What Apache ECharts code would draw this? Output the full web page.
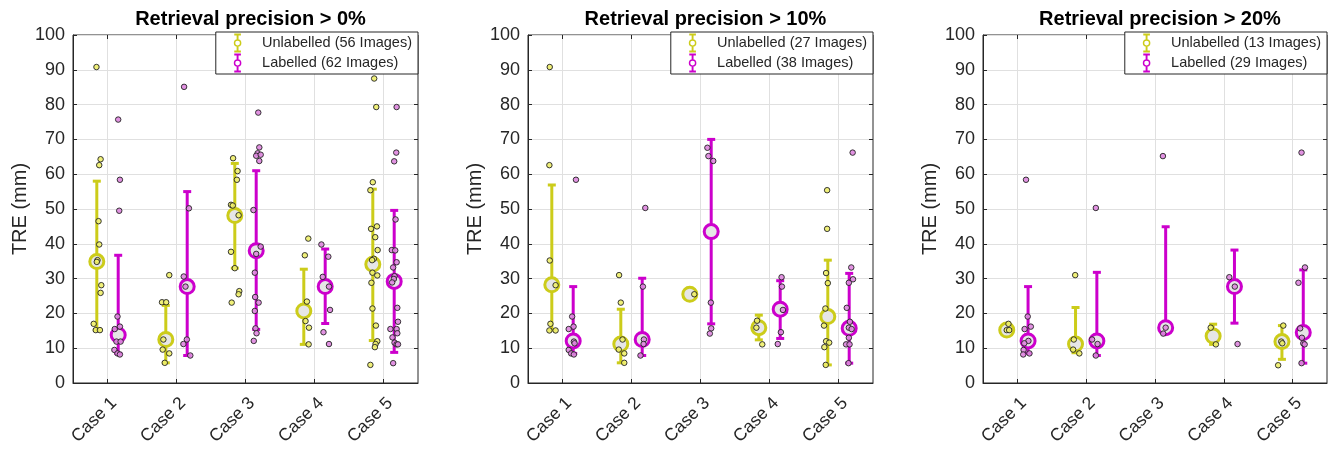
<!DOCTYPE html>
<html>
<head>
<meta charset="utf-8">
<script src="https://cdn.jsdelivr.net/npm/echarts@6/dist/echarts.min.js"></script>
<style>
html,body{margin:0;padding:0;background:#fff;}
#chart{width:1331px;height:450px;}
</style>
</head>
<body>
<div id="chart"></div>
<script>
// ---------------- DATA ----------------
const categories = ['Case 1', 'Case 2', 'Case 3', 'Case 4', 'Case 5'];
const panelTitles = ['Retrieval precision > 0%', 'Retrieval precision > 10%', 'Retrieval precision > 20%'];
const unlabNames = ['Unlabelled (56 Images)', 'Unlabelled (27 Images)', 'Unlabelled (13 Images)'];
const labNames = ['Labelled (62 Images)', 'Labelled (38 Images)', 'Labelled (29 Images)'];
const yAxisName = 'TRE (mm)';

// means and error bar ends per case (null = no data)
const p1UnlabMean = [34.9, 12.5, 48.1, 20.7, 34.1];
const p1UnlabLow  = [15.2, 5.8, 33.0, 11.1, 12.2];
const p1UnlabHigh = [58.0, 22.3, 63.1, 32.7, 55.7];
const p1LabMean = [13.8, 27.7, 38.0, 27.7, 29.2];
const p1LabLow  = [8.5, 7.9, 15.4, 17.1, 8.8];
const p1LabHigh = [36.7, 55.0, 61.0, 38.5, 49.6];

const p2UnlabMean = [28.2, 11.2, 25.5, 15.9, 19.1];
const p2UnlabLow  = [15.2, 5.8, 25.5, 12.4, 5.2];
const p2UnlabHigh = [56.9, 21.2, 25.5, 19.5, 35.3];
const p2LabMean = [12.1, 12.5, 43.5, 21.2, 15.7];
const p2LabLow  = [8.5, 7.9, 17.0, 12.8, 5.7];
const p2LabHigh = [27.7, 30.1, 70.0, 29.4, 31.5];

const p3UnlabMean = [15.2, 11.2, null, 13.5, 11.9];
const p3UnlabLow  = [14.6, 8.7, null, 11.1, 6.8];
const p3UnlabHigh = [16.6, 21.7, null, 16.9, 16.5];
const p3LabMean = [12.1, 12.1, 15.9, 27.7, 14.5];
const p3LabLow  = [8.5, 7.9, 14.5, 17.2, 5.7];
const p3LabHigh = [27.7, 31.8, 44.9, 38.2, 32.5];

// individual image TRE values per case, with horizontal jitter (in case units)
const p1UnlabVals = [
  [90.8, 64.3, 62.6, 46.5, 39.8, 35.3, 34.8, 28.1, 25.9, 17.0, 15.2, 15.2],
  [31.0, 23.2, 23.2, 12.5, 9.6, 8.5, 5.8],
  [64.6, 60.9, 58.4, 51.2, 51.0, 48.2, 37.7, 33.0, 26.4, 25.5, 23.1],
  [41.5, 36.7, 23.4, 17.8, 15.9, 11.1],
  [87.5, 79.3, 57.7, 55.4, 44.3, 45.0, 41.9, 38.2, 35.7, 35.3, 31.7, 30.9, 28.8, 21.4, 16.5, 12.0, 11.2, 10.3, 5.2]
];
const p1UnlabJit = [
  [-0.16, -0.10, -0.12, -0.13, -0.12, -0.145, -0.155, -0.09, -0.10, -0.20, -0.17, -0.11],
  [-0.105, -0.21, -0.15, -0.19, -0.20, -0.105, -0.17],
  [-0.18, -0.115, -0.125, -0.21, -0.185, -0.10, -0.21, -0.155, -0.09, -0.10, -0.20],
  [-0.09, -0.14, -0.11, -0.13, -0.08, -0.085],
  [-0.135, -0.105, -0.155, -0.19, -0.18, -0.095, -0.12, -0.085, -0.14, -0.165, -0.16, -0.09, -0.175, -0.16, -0.11, -0.09, -0.115, -0.125, -0.19]
];
const p1LabVals = [
  [75.7, 58.4, 49.5, 19.1, 16.2, 15.5, 11.9, 11.9, 9.5, 8.5, 8.2],
  [85.1, 50.2, 30.6, 27.7, 12.5, 11.2, 7.9],
  [77.7, 67.7, 66.0, 65.3, 65.6, 63.8, 49.7, 39.2, 37.1, 31.7, 24.7, 23.1, 20.7, 15.7, 14.3, 12.1],
  [39.8, 36.3, 30.5, 27.7, 21.0, 14.6, 11.2],
  [79.3, 66.2, 63.7, 47.0, 38.2, 38.1, 34.7, 33.2, 30.7, 29.9, 28.9, 21.6, 17.6, 15.5, 15.5, 14.3, 13.1, 11.6, 11.1, 11.1, 5.7]
];
const p1LabJit = [
  [0.155, 0.18, 0.17, 0.145, 0.18, 0.105, 0.13, 0.19, 0.10, 0.145, 0.18],
  [0.11, 0.18, 0.105, 0.13, 0.15, 0.10, 0.20],
  [0.185, 0.20, 0.175, 0.155, 0.22, 0.20, 0.115, 0.22, 0.155, 0.135, 0.14, 0.19, 0.135, 0.145, 0.16, 0.12],
  [0.10, 0.20, 0.12, 0.21, 0.225, 0.13, 0.21],
  [0.19, 0.185, 0.155, 0.175, 0.12, 0.17, 0.19, 0.14, 0.16, 0.15, 0.125, 0.20, 0.21, 0.10, 0.19, 0.20, 0.13, 0.16, 0.19, 0.21, 0.14]
];

const p2UnlabVals = [
  [90.8, 62.6, 35.2, 28.1, 17.0, 15.1, 15.1],
  [31.0, 23.1, 12.5, 9.6, 8.5, 5.8],
  [25.5],
  [17.9, 15.9, 11.1],
  [55.4, 44.3, 31.6, 28.7, 21.4, 16.5, 12.0, 11.6, 10.3, 5.2]
];
const p2UnlabJit = [
  [-0.185, -0.19, -0.185, -0.10, -0.175, -0.19, -0.10],
  [-0.18, -0.155, -0.13, -0.185, -0.105, -0.105],
  [-0.09],
  [-0.18, -0.19, -0.105],
  [-0.165, -0.165, -0.18, -0.155, -0.19, -0.21, -0.18, -0.135, -0.205, -0.185]
];
const p2LabVals = [
  [58.4, 19.1, 16.2, 15.5, 11.9, 11.4, 9.5, 8.5, 8.2],
  [50.3, 27.7, 12.5, 11.2, 7.9],
  [67.6, 65.2, 63.8, 23.1, 15.7, 14.2],
  [30.4, 27.7, 21.0, 14.6, 11.2],
  [66.2, 33.2, 29.8, 28.8, 21.6, 17.6, 15.9, 15.5, 13.0, 11.1, 11.1, 5.7]
];
const p2LabJit = [
  [0.195, 0.14, 0.16, 0.09, 0.165, 0.175, 0.09, 0.125, 0.165],
  [0.20, 0.165, 0.18, 0.175, 0.13],
  [0.10, 0.115, 0.185, 0.15, 0.155, 0.135],
  [0.175, 0.18, 0.195, 0.165, 0.12],
  [0.205, 0.185, 0.21, 0.15, 0.12, 0.165, 0.15, 0.19, 0.15, 0.11, 0.16, 0.145]
];

const p3UnlabVals = [
  [17.0, 15.2, 15.2],
  [31.0, 12.5, 9.6, 8.5],
  [],
  [15.9, 11.1],
  [16.5, 11.9, 11.4, 5.1]
];
const p3UnlabJit = [
  [-0.13, -0.155, -0.12],
  [-0.16, -0.18, -0.19, -0.10],
  [],
  [-0.19, -0.115],
  [-0.135, -0.165, -0.15, -0.21]
];
const p3LabVals = [
  [58.4, 19.1, 16.2, 15.5, 12.1, 11.4, 9.5, 8.2, 8.5],
  [50.3, 12.5, 11.2, 7.9],
  [65.2, 15.9, 14.2],
  [30.4, 27.7, 11.2],
  [66.2, 33.2, 28.8, 15.7, 13.0, 11.4, 11.1, 5.7]
];
const p3LabJit = [
  [0.125, 0.15, 0.195, 0.105, 0.16, 0.10, 0.09, 0.085, 0.175],
  [0.14, 0.085, 0.165, 0.14],
  [0.115, 0.155, 0.12],
  [0.08, 0.16, 0.20],
  [0.13, 0.18, 0.085, 0.11, 0.135, 0.155, 0.175, 0.13]
];

// ---------------- STYLE / LAYOUT ----------------
const FONT = "'Liberation Sans', Arial, Helvetica, sans-serif";
const TXT = '#262626';
const YELLOW = '#cccc1a';
const MAGENTA = '#cc00cc';
const YELLOW_PT = '#eeee6a';
const MAGENTA_PT = '#de86de';
const GRID_LEFT = [73, 528, 983];
const GRID_WIDTH = [345, 345, 344];
const GRID_TOP = 35;
const GRID_HEIGHT = 348;
const DODGE = 0.155;

const panels = [
  {um: p1UnlabMean, ul: p1UnlabLow, uh: p1UnlabHigh, lm: p1LabMean, ll: p1LabLow, lh: p1LabHigh,
   uv: p1UnlabVals, uj: p1UnlabJit, lv: p1LabVals, lj: p1LabJit},
  {um: p2UnlabMean, ul: p2UnlabLow, uh: p2UnlabHigh, lm: p2LabMean, ll: p2LabLow, lh: p2LabHigh,
   uv: p2UnlabVals, uj: p2UnlabJit, lv: p2LabVals, lj: p2LabJit},
  {um: p3UnlabMean, ul: p3UnlabLow, uh: p3UnlabHigh, lm: p3LabMean, ll: p3LabLow, lh: p3LabHigh,
   uv: p3UnlabVals, uj: p3UnlabJit, lv: p3LabVals, lj: p3LabJit}
];

// display category axis: boundaries + case centres
const displayCats = [''];
categories.forEach(c => { displayCats.push(c); displayCats.push(''); });
const isCase = (i) => i % 2 === 1;

const legendIcon = 'path://M3,0H17V4H3Z M8,4H12V13H8Z M8,27H12V36H8Z M3,36H17V40H3Z ' +
  'M2,20A8,8 0 1,1 18,20A8,8 0 1,1 2,20Z M5,20A5,5 0 1,0 15,20A5,5 0 1,0 5,20Z';

function errRender(color) {
  return function (params, api) {
    const x = api.value(0), lo = api.value(1), hi = api.value(2);
    const a = api.coord([x, lo]);
    const b = api.coord([x, hi]);
    const cap = 4;
    const st = {stroke: color, lineWidth: 3};
    return {
      type: 'group',
      children: [
        {type: 'line', shape: {x1: a[0], y1: a[1], x2: b[0], y2: b[1]}, style: st},
        {type: 'line', shape: {x1: b[0] - cap, y1: b[1], x2: b[0] + cap, y2: b[1]}, style: st},
        {type: 'line', shape: {x1: a[0] - cap, y1: a[1], x2: a[0] + cap, y2: a[1]}, style: st}
      ]
    };
  };
}

const grids = [], xAxes = [], yAxes = [], series = [], titles = [], legends = [];

panels.forEach((P, p) => {
  grids.push({left: GRID_LEFT[p], top: GRID_TOP, width: GRID_WIDTH[p], height: GRID_HEIGHT,
    show: true, borderColor: TXT, borderWidth: 1, backgroundColor: 'transparent', containLabel: false});

  const base = xAxes.length;
  xAxes.push({type: 'value', gridIndex: p, min: 0.5, max: 5.5, show: false});
  xAxes.push({type: 'category', gridIndex: p, position: 'bottom', data: displayCats, boundaryGap: false,
    axisLine: {show: true, lineStyle: {color: TXT, width: 1}},
    axisTick: {show: true, inside: true, length: 4, interval: (i) => isCase(i), lineStyle: {color: TXT}},
    axisLabel: {show: true, interval: (i) => isCase(i), rotate: 45, margin: 11, fontSize: 17.5,
      fontFamily: FONT, color: TXT, align: 'right', verticalAlign: 'top'},
    splitLine: {show: true, interval: (i) => isCase(i), lineStyle: {color: '#e0e0e0', width: 1}}
  });
  xAxes.push({type: 'category', gridIndex: p, position: 'top', data: displayCats, boundaryGap: false,
    axisLine: {show: false},
    axisTick: {show: true, inside: true, length: 4, interval: (i) => isCase(i), lineStyle: {color: TXT}},
    axisLabel: {show: false}, splitLine: {show: false}
  });

  const ybase = yAxes.length;
  yAxes.push({type: 'value', gridIndex: p, min: 0, max: 100, interval: 10, position: 'left',
    name: yAxisName, nameLocation: 'middle', nameGap: 43,
    nameTextStyle: {fontSize: 20, fontFamily: FONT, color: TXT},
    axisLine: {show: true, lineStyle: {color: TXT, width: 1}},
    axisTick: {show: true, inside: true, length: 4, lineStyle: {color: TXT}},
    axisLabel: {fontSize: 18, fontFamily: FONT, color: TXT, margin: 8},
    splitLine: {show: true, lineStyle: {color: '#e0e0e0', width: 1}}
  });
  yAxes.push({type: 'value', gridIndex: p, min: 0, max: 100, interval: 10, position: 'right',
    axisLine: {show: false},
    axisTick: {show: true, inside: true, length: 4, lineStyle: {color: TXT}},
    axisLabel: {show: false}, splitLine: {show: false}
  });

  const groups = [
    {name: unlabNames[p], mean: P.um, lo: P.ul, hi: P.uh, vals: P.uv, jit: P.uj, color: YELLOW, pt: YELLOW_PT, off: -DODGE},
    {name: labNames[p], mean: P.lm, lo: P.ll, hi: P.lh, vals: P.lv, jit: P.lj, color: MAGENTA, pt: MAGENTA_PT, off: DODGE}
  ];

  groups.forEach(g => {
    const data = [];
    g.mean.forEach((m, i) => { if (m != null) data.push([i + 1 + g.off, g.lo[i], g.hi[i]]); });
    series.push({type: 'custom', name: g.name, xAxisIndex: base, yAxisIndex: ybase,
      renderItem: errRender(g.color), data: data, encode: {x: 0, y: [1, 2]}, silent: true, z: 2});
  });
  groups.forEach(g => {
    const data = [];
    g.mean.forEach((m, i) => { if (m != null) data.push([i + 1 + g.off, m]); });
    series.push({type: 'scatter', name: g.name, xAxisIndex: base, yAxisIndex: ybase, data: data,
      symbol: 'circle', symbolSize: 14, silent: true, z: 3,
      itemStyle: {color: '#e6e6e6', borderColor: g.color, borderWidth: 3, opacity: 1}});
  });
  groups.forEach(g => {
    const data = [];
    g.vals.forEach((arr, i) => arr.forEach((v, k) => data.push([i + 1 + g.jit[i][k], v])));
    series.push({type: 'scatter', name: g.name, xAxisIndex: base, yAxisIndex: ybase, data: data,
      symbol: 'circle', symbolSize: 5.5, silent: true, z: 4,
      itemStyle: {color: g.pt, borderColor: '#222', borderWidth: 1, opacity: 0.9}});
  });

  titles.push({text: panelTitles[p], left: GRID_LEFT[p] + GRID_WIDTH[p] / 2, top: 4, textAlign: 'center',
    textStyle: {fontSize: 20, fontWeight: 'bold', color: '#000', fontFamily: FONT}});

  legends.push({
    right: 1331 - (GRID_LEFT[p] + GRID_WIDTH[p]), top: 32, orient: 'vertical',
    data: [
      {name: unlabNames[p], icon: legendIcon, itemStyle: {color: YELLOW}},
      {name: labNames[p], icon: legendIcon, itemStyle: {color: MAGENTA}}
    ],
    itemWidth: 9, itemHeight: 19, itemGap: 1,
    padding: [1.5, 6, 1.5, 18],
    backgroundColor: '#fff', borderColor: TXT, borderWidth: 1,
    selectedMode: false,
    formatter: '{t|{name}}',
    textStyle: {fontSize: 14.5, fontFamily: FONT, color: TXT,
      rich: {t: {fontSize: 14.5, fontFamily: FONT, color: TXT, padding: [0, 0, 0, 15]}}}
  });
});

const chart = echarts.init(document.getElementById('chart'), null, {renderer: 'canvas'});
chart.setOption({
  animation: false,
  backgroundColor: '#fff',
  title: titles,
  legend: legends,
  grid: grids,
  xAxis: xAxes,
  yAxis: yAxes,
  series: series
});
</script>
</body>
</html>
